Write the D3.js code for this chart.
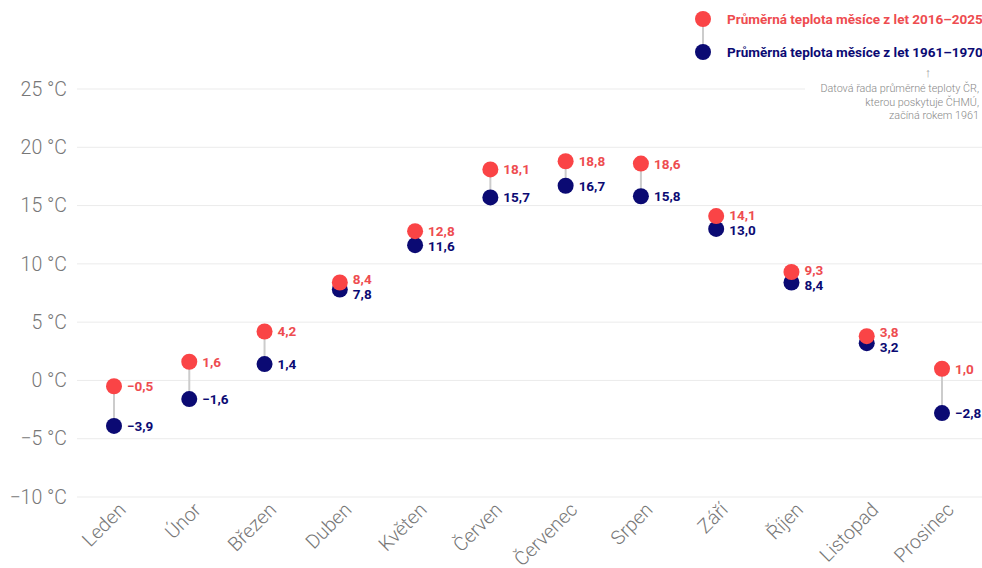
<!DOCTYPE html>
<html>
<head>
<meta charset="utf-8">
<script src="https://cdn.jsdelivr.net/npm/d3@7"></script>
<style>
  body { margin: 0; background: #fff; overflow: hidden; }
  text { font-family: Roboto, "Noto Sans", sans-serif; }
</style>
</head>
<body>
<script>
const months = ["Leden", "Únor", "Březen", "Duben", "Květen", "Červen", "Červenec", "Srpen", "Září", "Říjen", "Listopad", "Prosinec"];
const recent = [-0.5, 1.6, 4.2, 8.4, 12.8, 18.1, 18.8, 18.6, 14.1, 9.3, 3.8, 1.0];
const old = [-3.9, -1.6, 1.4, 7.8, 11.6, 15.7, 16.7, 15.8, 13.0, 8.4, 3.2, -2.8];
const yTicks = [-10, -5, 0, 5, 10, 15, 20, 25];

const width = 982, height = 568;
const red = "#fa4446", navy = "#0b0a73";

const svg = d3.select("body").append("svg")
    .attr("width", width)
    .attr("height", height);

const x = d3.scalePoint().domain(months).range([114, 942]);
const y = d3.scaleLinear().domain([-10, 25]).range([497, 89]);

const fmt = v => (v < 0 ? "\u2212" : "") + Math.abs(v).toFixed(1).replace(".", ",");

// grid + y labels
const yAxis = d3.axisLeft(y).tickValues(yTicks).tickSize(0).tickPadding(0)
    .tickFormat(d => (d < 0 ? "\u2212" + Math.abs(d) : d) + " °C");
const ga = svg.append("g").attr("transform", "translate(67,0)").call(yAxis);
ga.select(".domain").remove();
ga.selectAll("text").attr("font-size", 19.5).attr("fill", "#777").attr("font-weight", 300);

svg.append("g").selectAll("line").data(yTicks).join("line")
    .attr("x1", 77).attr("x2", d => d === 25 ? 805 : width)
    .attr("y1", d => y(d)).attr("y2", d => y(d))
    .attr("stroke", "#ebebeb").attr("stroke-width", 1);

// x labels
svg.append("g").selectAll("text").data(months).join("text")
    .attr("transform", d => `translate(${x(d) + 13},${511}) rotate(-45)`)
    .attr("text-anchor", "end")
    .attr("font-size", 19.5).attr("fill", "#777").attr("font-weight", 300)
    .text(d => d);

// dumbbells
const data = months.map((m, i) => {
    const ya = y(recent[i]), yb = y(old[i]);
    const gap = yb - ya, minGap = 15;
    const push = gap < minGap ? (minGap - gap) / 2 : 0;
    return { m, a: recent[i], b: old[i], la: ya - push, lb: yb + push };
});
const g = svg.append("g");
g.selectAll("line.conn").data(data).join("line")
    .attr("x1", d => x(d.m)).attr("x2", d => x(d.m))
    .attr("y1", d => y(d.a)).attr("y2", d => y(d.b))
    .attr("stroke", "#cccccc").attr("stroke-width", 2);
g.selectAll("circle.old").data(data).join("circle")
    .attr("cx", d => x(d.m)).attr("cy", d => y(d.b)).attr("r", 8).attr("fill", navy);
g.selectAll("circle.rec").data(data).join("circle")
    .attr("cx", d => x(d.m)).attr("cy", d => y(d.a)).attr("r", 8).attr("fill", red);
g.selectAll("text.old").data(data).join("text")
    .attr("x", d => x(d.m) + 13).attr("y", d => d.lb + 5)
    .attr("font-size", 13.5).attr("font-weight", 700).attr("fill", navy)
    .text(d => fmt(d.b));
g.selectAll("text.rec").data(data).join("text")
    .attr("x", d => x(d.m) + 13).attr("y", d => d.la + 5)
    .attr("font-size", 13.5).attr("font-weight", 700).attr("fill", "#ee4c50")
    .text(d => fmt(d.a));

// legend
const lg = svg.append("g");
lg.append("line").attr("x1", 703).attr("x2", 703).attr("y1", 19).attr("y2", 52)
    .attr("stroke", "#cccccc").attr("stroke-width", 2);
lg.append("circle").attr("cx", 703).attr("cy", 19).attr("r", 8).attr("fill", red);
lg.append("circle").attr("cx", 703).attr("cy", 52).attr("r", 8).attr("fill", navy);
lg.append("text").attr("x", 727).attr("y", 23.5).attr("font-size", 13.5).attr("font-weight", 700)
    .attr("fill", "#ee4c50").text("Průměrná teplota měsíce z let 2016–2025");
lg.append("text").attr("x", 727).attr("y", 56.5).attr("font-size", 13.5).attr("font-weight", 700)
    .attr("fill", navy).text("Průměrná teplota měsíce z let 1961–1970");
lg.append("text").attr("x", 928).attr("y", 77).attr("text-anchor", "middle")
    .attr("font-size", 13).attr("fill", "#999").text("↑");
const note = ["Datová řada průměrné teploty ČR,", "kterou poskytuje ČHMÚ,", "začíná rokem 1961"];
lg.selectAll("text.note").data(note).join("text")
    .attr("x", 979).attr("y", (d, i) => 92 + i * 13.5)
    .attr("text-anchor", "end").attr("font-size", 10.8).attr("font-weight", 300)
    .attr("fill", "#888").text(d => d);
</script>
</body>
</html>
